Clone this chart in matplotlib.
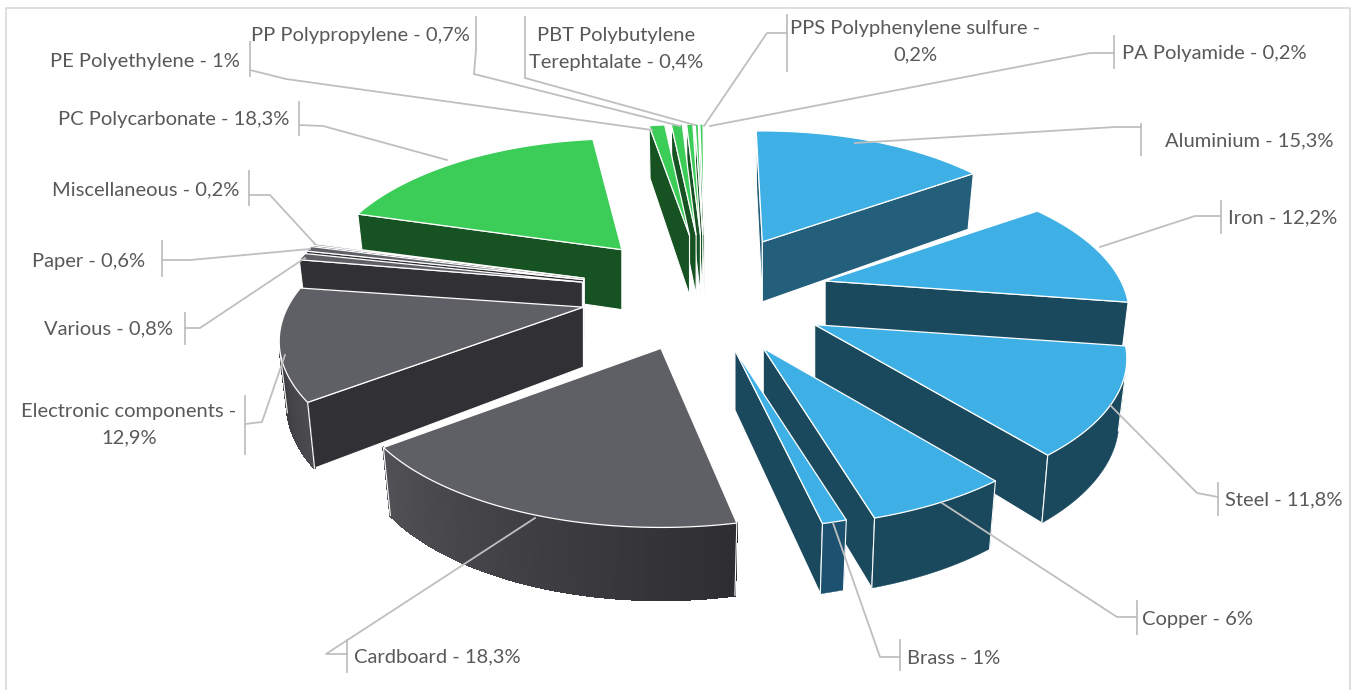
import numpy as np
import matplotlib
matplotlib.use("Agg")
import matplotlib.pyplot as plt
from matplotlib.patches import Polygon

# data, clockwise from the top
names = ["Aluminium", "Iron", "Steel", "Copper", "Brass", "Cardboard",
         "Electronic components", "Various", "Paper", "Miscellaneous",
         "PC Polycarbonate", "PE Polyethylene", "PP Polypropylene",
         "PBT Polybutylene Terephtalate", "PPS Polyphenylene sulfure", "PA Polyamide"]
values = [15.3, 12.2, 11.8, 6, 1, 18.3, 12.9, 0.8, 0.6, 0.2, 18.3, 1, 0.7, 0.4, 0.2, 0.2]
groups = ["metal"] * 5 + ["other"] * 5 + ["plastic"] * 6
label_texts = ["Aluminium - 15,3%", "Iron - 12,2%", "Steel - 11,8%", "Copper - 6%", "Brass - 1%",
               "Cardboard - 18,3%", "Electronic components -\n12,9%", "Various - 0,8%", "Paper - 0,6%",
               "Miscellaneous - 0,2%", "PC Polycarbonate - 18,3%", "PE Polyethylene - 1%",
               "PP Polypropylene - 0,7%", "PBT Polybutylene\nTerephtalate - 0,4%",
               "PPS Polyphenylene sulfure -\n0,2%", "PA Polyamide - 0,2%"]

# look of the pie
top_colors = {"metal": "#3eb0e5", "other": "#5f6065", "plastic": "#3ccc58"}
side_colors = {"metal": "#1a495e", "other": "#313135", "plastic": "#175322"}
first_angle = 0.5
cx, cy = 704, 293.5
explode_x, explode_y = 124, 58.5
radius_x, radius_y = 308, 137
persp = 0.235
depth = 60
bottom_shrink = 0.975  # walls lean inwards a little at the foot
# the 3d view of the original is not a clean projection, per slice corrections
x_scale = [0.94, 0.96, 0.985, 1, 1, 0.98, 0.96, 0.97, 0.97, 0.97, 0.95, 1, 1, 1, 1, 1]
explode = [1, 1, 1.04, 1.05, 1, 1, 1, 1, 1, 1, 1, 1, 1, 1, 1, 1]
trim_start = [-2, -1, -1, 0, 0, 1.5, 0, 0, 0, 0, 0.5, -0.8, -0.8, -0.8, -0.8, -0.8]
trim_end = [0, -1, -1, 0, 0, -1.5, -1.5, 0, 0, 0, 1.5, -0.8, -0.8, -0.8, -0.8, -0.8]
depth_scale = [1, 1, 1, 1, 1, 1.03, 1, 1, 1, 1, 1, 1, 1, 1, 1, 1]

# text position (x, y, ha), bracket (x, y0, y1), leader line
placement = [
    (1165, 141, "left", (1141, 124, 155), [(855, 143), (1115, 127), (1141, 127)]),
    (1228, 218, "left", (1221, 201, 233), [(1100, 247), (1195, 216), (1221, 216)]),
    (1225, 500, "left", (1218, 483, 515), [(1110, 405), (1197, 493), (1218, 497)]),
    (1142, 619, "left", (1137, 601, 634), [(942, 503), (1117, 617), (1137, 617)]),
    (907, 659, "left", (900, 640, 670), [(833, 523), (880, 657), (900, 657)]),
    (354, 657, "left", (347, 640, 672), [(535, 518), (326, 654), (347, 654)]),
    (129, 425, "center", (245, 396, 454), [(285, 355), (262, 422), (245, 424)]),
    (173, 329, "right", (185, 313, 344), [(305, 258), (200, 328), (185, 328)]),
    (145, 261, "right", (162, 241, 276), [(310, 249), (190, 260), (162, 260)]),
    (239, 190, "right", (249, 171, 205), [(315, 244), (270, 195), (249, 195)]),
    (289, 120, "right", (299, 102, 135), [(447, 160), (323, 126), (299, 125)]),
    (240, 61, "right", (250, 42, 76), [(652, 130), (286, 79), (250, 70)]),
    (470, 35, "right", (476, 17, 50), [(680, 126), (474, 74), (476, 50)]),
    (616, 49, "center", (525, 17, 78), [(695, 125), (525, 78)]),
    (915, 42, "center", (787, 15, 71), [(704, 126), (767, 33), (787, 33)]),
    (1307, 54, "right", (1114, 36, 68), [(710, 126), (1090, 53), (1114, 53)]),
]

plt.rcParams["font.family"] = ["Lato", "DejaVu Sans"]

fig = plt.figure(figsize=(13.51, 6.90), dpi=100)
ax = fig.add_axes([0, 0, 1, 1])
ax.set_xlim(0, 1351)
ax.set_ylim(690, 0)
ax.axis("off")


def rim(ang, sx, ds):
    # point of the rim relative to the slice tip
    a = np.radians(ang)
    w = 1 + persp * np.cos(a)
    return radius_x * sx * np.sin(a) / w, -radius_y * np.cos(a) / w, ds * depth / w ** 0.6


def area(pts):
    x, y = np.array(pts).T
    return np.sum(x * np.roll(y, -1) - np.roll(x, -1) * y)


def mix(c1, c2, t):
    c1, c2 = matplotlib.colors.to_rgb(c1), matplotlib.colors.to_rgb(c2)
    return tuple(a + (b - a) * t for a, b in zip(c1, c2))


total = sum(values)
edges = first_angle + np.cumsum([0] + values) / total * 360
slices = []
for i, v in enumerate(values):
    mid = np.radians((edges[i] + edges[i + 1]) / 2)
    tip = (cx + explode[i] * explode_x * np.sin(mid), cy - explode[i] * explode_y * np.cos(mid))
    slices.append((tip[1], i, tip))

for n, (_, i, tip) in enumerate(sorted(slices, key=lambda s: s[0])):
    z = n + 2
    top_c = top_colors[groups[i]]
    side_c = side_colors[groups[i]]
    if names[i] == "Aluminium":
        side_c = "#235e7a"
    tx, ty = tip
    angs = np.linspace(edges[i] + trim_start[i], edges[i + 1] + trim_end[i], max(int(values[i] * 5), 2) + 1)
    rims = [rim(a, x_scale[i], depth_scale[i]) for a in angs]
    up = [(tx + r[0], ty + r[1]) for r in rims]
    down = [(tx + r[0] * bottom_shrink, ty + r[1] + r[2]) for r in rims]
    tip_down = (tx, ty + depth)

    # the two cut faces
    start_face = [tip, up[0], down[0], tip_down]
    end_face = [tip, up[-1], down[-1], tip_down]
    if area(start_face) < 0:
        ax.add_patch(Polygon(start_face, fc=side_c, ec="white", lw=0.8, zorder=z))
    if area(end_face) > 0:
        ax.add_patch(Polygon(end_face, fc=side_c, ec="white", lw=0.8, zorder=z))

    # outer wall, one polygon, gradient strips on top for the grey ones
    shown = [j for j in range(len(angs) - 1)
             if area([up[j], up[j + 1], down[j + 1], down[j]]) < 0]
    if shown:
        j0, j1 = shown[0], shown[-1] + 1
        wall_c = "#1c5270" if names[i] == "Brass" else side_c
        wall = up[j0:j1 + 1] + down[j0:j1 + 1][::-1]
        ax.add_patch(Polygon(wall, fc=wall_c, ec=wall_c, lw=0.3, zorder=z))
        if names[i] in ("Cardboard", "Electronic components"):
            light, dark = ("#2e2e32", "#515155") if names[i] == "Cardboard" else ("#4c4c50", "#3e3e42")
            for j in shown:
                c = mix(light, dark, (j - j0) / max(j1 - j0 - 1, 1))
                ax.add_patch(Polygon([up[j], up[j + 1], down[j + 1], down[j]], fc=c, ec=c,
                                     lw=1, antialiased=False, zorder=z))
        for j in (j0, j1):
            ax.plot([up[j][0], down[j][0]], [up[j][1], down[j][1]], color="white", lw=0.8, zorder=z)

    ax.add_patch(Polygon([tip] + up, fc=top_c, ec="white", lw=0.9, zorder=z))

# leader lines and labels
for txt, (x, y, ha, bracket, leader) in zip(label_texts, placement):
    lx, ly = zip(*leader)
    ax.plot(lx, ly, color="#bfbfbf", lw=1.3, zorder=30)
    ax.plot([bracket[0]] * 2, bracket[1:], color="#bfbfbf", lw=1.3, zorder=30)
    ax.text(x, y, txt, ha=ha, va="center", ma="center", fontsize=14.5, color="#595959",
            linespacing=1.65, zorder=31)

# chart frame
ax.plot([6, 6, 1350, 1350], [690, 8, 8, 690], color="#d9d9d9", lw=1.2, zorder=1)

fig.savefig("out.png", dpi=100, facecolor="white")
